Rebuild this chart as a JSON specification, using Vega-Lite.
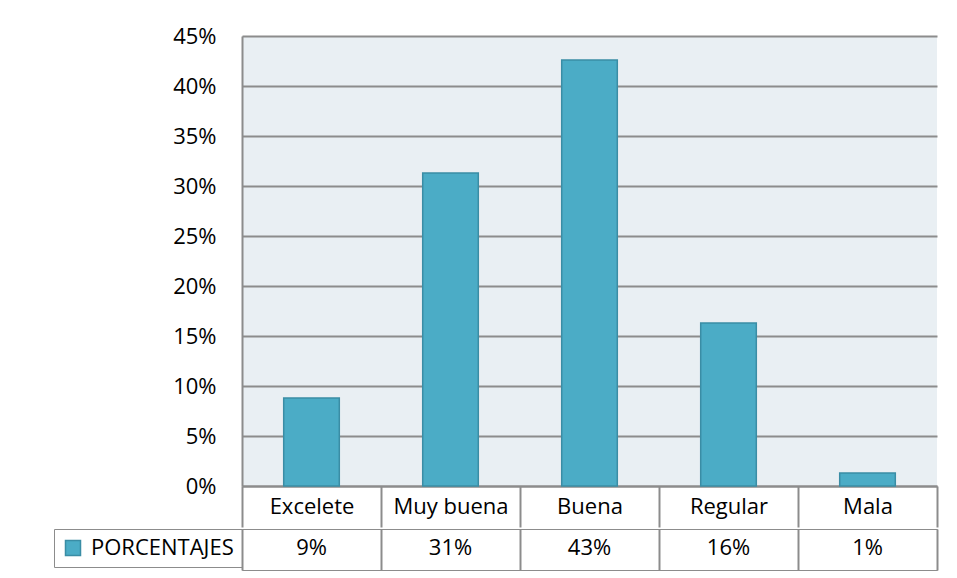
{
  "$schema": "https://vega.github.io/schema/vega-lite/v6.json",
  "padding": {"left": 53, "top": 25, "right": 10, "bottom": 5},
  "background": "white",
  "datasets": {
    "encuesta": [
      {"categoria": "Excelete", "valor": 0.088, "serie": "PORCENTAJES"},
      {"categoria": "Muy buena", "valor": 0.313, "serie": "PORCENTAJES"},
      {"categoria": "Buena", "valor": 0.426, "serie": "PORCENTAJES"},
      {"categoria": "Regular", "valor": 0.163, "serie": "PORCENTAJES"},
      {"categoria": "Mala", "valor": 0.013, "serie": "PORCENTAJES"}
    ]
  },
  "config": {
    "font": "Open Sans",
    "axis": {"labelFont": "Open Sans", "labelFontSize": 22, "labelColor": "#000000"},
    "legend": {"labelFont": "Open Sans"}
  },
  "spacing": 0,
  "resolve": {"scale": {"color": "independent"}, "legend": {"color": "independent"}},
  "vconcat": [
    {
      "width": 695,
      "height": 450,
      "data": {"name": "encuesta"},
      "view": {"fill": "#E9EFF3", "stroke": null},
      "mark": {"type": "bar", "fill": "#4BACC6", "stroke": "#3A8DA5", "strokeWidth": 1.5, "width": {"band": 0.4}},
      "encoding": {
        "x": {
          "field": "categoria",
          "type": "nominal",
          "sort": null,
          "scale": {"paddingInner": 0, "paddingOuter": 0},
          "axis": {
            "title": null,
            "labelAngle": 0,
            "labelPadding": -21,
            "labelBaseline": "middle",
            "ticks": true,
            "tickBand": "extent",
            "tickSize": 41,
            "tickColor": "#8C8C8C",
            "tickWidth": 2,
            "domainColor": "#8C8C8C",
            "domainWidth": 2,
            "grid": false
          }
        },
        "y": {
          "field": "valor",
          "type": "quantitative",
          "scale": {"domain": [0, 0.45]},
          "axis": {
            "title": null,
            "format": ".0%",
            "values": [0, 0.05, 0.1, 0.15, 0.2, 0.25, 0.3, 0.35, 0.4, 0.45],
            "ticks": false,
            "labelPadding": 26,
            "domainColor": "#8C8C8C",
            "domainWidth": 2,
            "grid": true,
            "gridColor": "#8C8C8C",
            "gridWidth": 2
          }
        }
      }
    },
    {
      "width": 695,
      "height": 41,
      "data": {"name": "encuesta"},
      "view": {"stroke": "#8C8C8C", "fill": "white"},
      "encoding": {
        "x": {
          "field": "categoria",
          "type": "nominal",
          "sort": null,
          "scale": {"paddingInner": 0, "paddingOuter": 0},
          "axis": {
            "title": null,
            "labels": false,
            "ticks": false,
            "domain": false,
            "grid": true,
            "tickBand": "extent",
            "gridColor": "#8C8C8C",
            "gridWidth": 2
          }
        }
      },
      "layer": [
        {
          "mark": {"type": "text", "font": "Open Sans", "fontSize": 22, "color": "#000000", "baseline": "middle", "dy": -2},
          "encoding": {"text": {"field": "valor", "type": "quantitative", "format": ".0%"}}
        },
        {
          "mark": {"type": "square", "opacity": 0},
          "encoding": {
            "color": {
              "field": "serie",
              "type": "nominal",
              "scale": {"domain": ["PORCENTAJES"], "range": ["#4BACC6"]},
              "legend": {
                "orient": "left",
                "offset": 0,
                "title": null,
                "symbolType": "square",
                "symbolSize": 225,
                "symbolOpacity": 1,
                "symbolStrokeColor": "#3A8DA5",
                "symbolStrokeWidth": 1.5,
                "labelFontSize": 22,
                "labelColor": "#000000",
                "labelOffset": 7,
                "padding": 8,
                "strokeColor": "#8C8C8C"
              }
            }
          }
        }
      ]
    }
  ]
}
